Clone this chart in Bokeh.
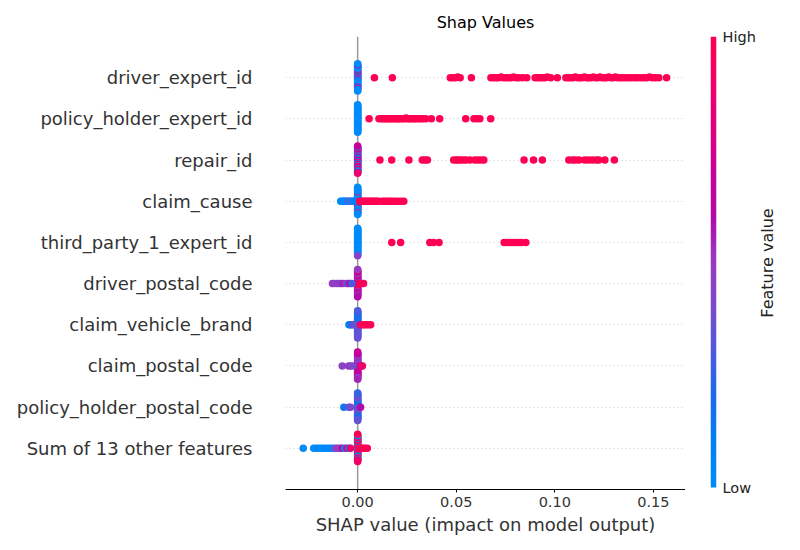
import numpy as np
from bokeh.plotting import figure
from bokeh.layouts import row
from bokeh.models import (ColumnDataSource, LinearColorMapper, FixedTicker, Span, Range1d,
                          Label)
from bokeh.transform import linear_cmap
from bokeh.embed import file_html
from bokeh.resources import INLINE

# ---------------- data ----------------
# feature names, bottom row first
features = ["Sum of 13 other features", "policy_holder_postal_code", "claim_postal_code",
            "claim_vehicle_brand", "driver_postal_code", "third_party_1_expert_id",
            "claim_cause", "repair_id", "policy_holder_expert_id", "driver_expert_id"]

x_ticks = [0.0, 0.05, 0.10, 0.15]
x_tick_labels = ["0.00", "0.05", "0.10", "0.15"]

# driver_expert_id
driver_expert_id_shap = [0.0085, 0.0176, 0.0470, 0.0482, 0.0495, 0.0508, 0.0520, 0.0577,
                         0.0676, 0.0690, 0.0703, 0.0715, 0.0728, 0.0740, 0.0752, 0.0765,
                         0.0778, 0.0790, 0.0803, 0.0816, 0.0836, 0.0858, 0.0900, 0.0912,
                         0.0925, 0.0938, 0.0950, 0.0962, 0.0979, 0.1013, 0.1056, 0.1068,
                         0.1080, 0.1092, 0.1104, 0.1115, 0.1126, 0.1138, 0.1150, 0.1161,
                         0.1172, 0.1184, 0.1195, 0.1206, 0.1218, 0.1229, 0.1240, 0.1252,
                         0.1263, 0.1274, 0.1286, 0.1297, 0.1308, 0.1320, 0.1332, 0.1345,
                         0.1358, 0.1372, 0.1388, 0.1405, 0.1420, 0.1436, 0.1452, 0.1466,
                         0.1480, 0.1495, 0.1510, 0.1528, 0.1567]
driver_expert_id_feat = [1.0, 1.0, 1.0, 1.0, 1.0, 1.0, 1.0, 1.0, 1.0, 1.0, 1.0, 1.0, 1.0,
                         1.0, 1.0, 1.0, 1.0, 1.0, 1.0, 1.0, 1.0, 1.0, 1.0, 1.0, 1.0, 1.0,
                         1.0, 1.0, 1.0, 1.0, 1.0, 1.0, 1.0, 1.0, 1.0, 1.0, 1.0, 1.0, 1.0,
                         1.0, 1.0, 1.0, 1.0, 1.0, 1.0, 1.0, 1.0, 1.0, 1.0, 1.0, 1.0, 1.0,
                         1.0, 1.0, 1.0, 1.0, 1.0, 1.0, 1.0, 1.0, 1.0, 1.0, 1.0, 1.0, 1.0,
                         1.0, 1.0, 1.0, 1.0]
driver_expert_id_zero = [0.0, 0.0, 0.7, 0.0, 0.05, 0.0, 0.9, 0.0, 0.0, 0.6, 0.0, 0.0,
                         0.05, 0.8, 0.0, 0.0, 0.0, 0.7, 0.0, 0.1, 0.0, 0.95, 0.0, 0.0,
                         0.6, 0.0, 0.0, 0.0, 0.75, 0.0, 0.0, 0.05, 0.0, 0.65, 0.0, 0.0]

# policy_holder_expert_id
policy_holder_expert_id_shap = [0.0058, 0.0108, 0.0120, 0.0130, 0.0138, 0.0145, 0.0155,
                                0.0160, 0.0170, 0.0180, 0.0188, 0.0195, 0.0205, 0.0210,
                                0.0220, 0.0230, 0.0240, 0.0245, 0.0255, 0.0260, 0.0270,
                                0.0280, 0.0290, 0.0298, 0.0310, 0.0320, 0.0330, 0.0345,
                                0.0374, 0.0416, 0.0548, 0.0590, 0.0605, 0.0620, 0.0675]
policy_holder_expert_id_feat = [1.0, 1.0, 1.0, 1.0, 1.0, 1.0, 1.0, 1.0, 1.0, 1.0, 1.0, 1.0,
                                1.0, 1.0, 1.0, 1.0, 1.0, 1.0, 1.0, 1.0, 1.0, 1.0, 1.0, 1.0,
                                1.0, 1.0, 1.0, 1.0, 1.0, 1.0, 1.0, 1.0, 1.0, 1.0, 1.0]
policy_holder_expert_id_zero = [0.0, 0.0, 0.02, 0.0, 0.0, 0.0, 0.0, 0.03, 0.0, 0.0, 0.0,
                                0.0, 0.0, 0.02, 0.0, 0.0, 0.0, 0.0, 0.0, 0.0, 0.03, 0.0,
                                0.0, 0.0, 0.0, 0.0, 0.02, 0.0, 0.0, 0.0, 0.0, 0.0, 0.0,
                                0.0, 0.02, 0.0]

# repair_id
repair_id_shap = [0.0113, 0.0173, 0.0260, 0.0328, 0.0340, 0.0354, 0.0487, 0.0500, 0.0510,
                  0.0520, 0.0535, 0.0548, 0.0569, 0.0594, 0.0610, 0.0625, 0.0640, 0.0844,
                  0.0892, 0.0937, 0.1071, 0.1090, 0.1105, 0.1122, 0.1152, 0.1170, 0.1190,
                  0.1210, 0.1223, 0.1254, 0.1302]
repair_id_feat = [1.0, 1.0, 1.0, 1.0, 1.0, 1.0, 1.0, 1.0, 1.0, 1.0, 1.0, 1.0, 1.0, 1.0,
                  1.0, 1.0, 1.0, 1.0, 1.0, 1.0, 1.0, 1.0, 1.0, 1.0, 1.0, 1.0, 1.0, 1.0,
                  1.0, 1.0, 1.0]
repair_id_zero = [0.8, 0.05, 0.7, 0.0, 0.9, 0.6, 0.1, 0.85, 0.0, 0.7, 0.6, 0.05, 0.9, 0.75,
                  0.0, 0.65, 0.8, 0.1, 0.95, 0.0, 0.7, 0.6, 0.05, 0.85, 0.7, 0.0, 0.9, 0.65,
                  0.1, 0.8, 0.0, 0.75, 0.6, 0.05, 0.9, 0.7]

# claim_cause
claim_cause_shap = [-0.0086, -0.0078, -0.0070, -0.0062, -0.0055, -0.0048, -0.0040, -0.0033,
                    -0.0027, -0.0020, -0.0012, 0.0010, 0.0018, 0.0026, 0.0034, 0.0042,
                    0.0050, 0.0058, 0.0066, 0.0074, 0.0082, 0.0090, 0.0098, 0.0106, 0.0125,
                    0.0135, 0.0145, 0.0155, 0.0165, 0.0178, 0.0190, 0.0205, 0.0220, 0.0234]
claim_cause_feat = [0.0, 0.05, 0.0, 0.1, 0.0, 0.3, 0.0, 0.05, 0.4, 0.0, 0.1, 1.0, 1.0, 1.0,
                    0.95, 1.0, 1.0, 1.0, 0.9, 1.0, 1.0, 1.0, 1.0, 1.0, 1.0, 1.0, 1.0, 1.0,
                    1.0, 1.0, 1.0, 1.0, 1.0, 1.0]
claim_cause_zero = [0.0, 0.0, 1.0, 0.0, 0.05, 0.0, 0.0, 1.0, 0.0, 0.0, 0.1, 0.0, 1.0, 0.0,
                    0.0, 0.0, 0.05, 0.0, 0.95, 0.0, 0.0, 0.0, 0.0, 1.0, 0.0, 0.0, 0.05, 0.0,
                    0.0, 0.0, 1.0, 0.0, 0.0, 0.0, 0.0, 0.0]

# third_party_1_expert_id
third_party_1_expert_id_shap = [0.0173, 0.0218, 0.0366, 0.0385, 0.0413, 0.0743, 0.0755,
                                0.0770, 0.0785, 0.0800, 0.0815, 0.0830, 0.0853]
third_party_1_expert_id_feat = [1.0, 1.0, 1.0, 1.0, 1.0, 1.0, 1.0, 1.0, 1.0, 1.0, 1.0, 1.0,
                                1.0]
third_party_1_expert_id_zero = [0.0, 0.0, 0.0, 0.02, 0.0, 0.0, 0.0, 0.0, 0.0, 0.0, 0.02,
                                0.0, 0.0, 0.0, 0.0, 0.0, 0.0, 0.0, 0.0, 0.0, 0.0, 0.0,
                                0.02, 0.0, 0.0, 0.0, 0.0, 0.0, 0.0, 0.0, 0.0, 0.0, 0.0,
                                0.0, 0.45, 0.0]

# driver_postal_code
driver_postal_code_shap = [-0.0128, -0.0118, -0.0105, -0.0095, -0.0085, -0.0075, -0.0060,
                           -0.0050, -0.0040, -0.0030, 0.0010, 0.0020, 0.0030]
driver_postal_code_feat = [0.45, 0.5, 0.45, 0.5, 0.4, 0.55, 0.5, 0.35, 0.6, 0.3, 1.0, 1.0,
                           0.95]
driver_postal_code_zero = [0.6, 0.5, 0.9, 0.65, 0.45, 1.0, 0.6, 0.55, 0.7, 0.4, 0.95, 0.6,
                           0.5, 0.65, 0.85, 0.55, 0.6, 0.45, 1.0, 0.6, 0.5, 0.7, 0.55, 0.9,
                           0.6, 0.45, 0.65, 0.5, 0.8, 0.6, 0.55, 0.6, 0.4, 0.95, 0.6, 0.5]

# claim_vehicle_brand
claim_vehicle_brand_shap = [-0.0044, -0.0038, -0.0030, -0.0022, -0.0015, 0.0015, 0.0025,
                            0.0035, 0.0045, 0.0056, 0.0066]
claim_vehicle_brand_feat = [0.05, 0.1, 0.25, 0.3, 0.35, 0.9, 1.0, 0.95, 1.0, 1.0, 1.0]
claim_vehicle_brand_zero = [0.2, 0.3, 0.1, 0.4, 0.25, 0.35, 0.15, 0.3, 0.45, 0.2, 0.3, 0.1,
                            0.35, 0.25, 0.4, 0.2, 0.3, 0.15, 0.35, 0.25, 0.3, 0.2, 0.4, 0.1,
                            0.3, 0.25, 0.35, 0.2, 0.3, 0.15, 0.4, 0.25, 0.3, 0.2, 0.35, 0.3]

# claim_postal_code
claim_postal_code_shap = [-0.0078, -0.0046, -0.0038, -0.0025, 0.0018, 0.0024]
claim_postal_code_feat = [0.45, 0.45, 0.5, 0.4, 0.75, 0.9]
claim_postal_code_zero = [0.55, 0.6, 0.4, 0.7, 0.5, 0.3, 0.65, 0.55, 0.8, 0.45, 0.6, 0.5,
                          0.35, 0.7, 0.6, 0.55, 0.9, 0.45, 0.6, 0.5, 0.65, 0.4, 0.7, 0.55,
                          0.6, 0.45, 0.75, 0.5, 0.6, 0.55, 0.4, 0.65, 0.5, 0.6, 0.55, 0.7]

# policy_holder_postal_code
policy_holder_postal_code_shap = [-0.0070, -0.0045, -0.0036, 0.0015]
policy_holder_postal_code_feat = [0.15, 0.3, 0.4, 0.6]
policy_holder_postal_code_zero = [0.2, 0.35, 0.1, 0.45, 0.25, 0.3, 0.15, 0.4, 0.2, 0.5, 0.3,
                                  0.1, 0.35, 0.25, 0.45, 0.2, 0.3, 0.15, 0.4, 0.25, 0.35,
                                  0.1, 0.3, 0.45, 0.2, 0.3, 0.15, 0.4, 0.25, 0.35, 0.2, 0.5,
                                  0.3, 0.1, 0.35, 0.25]

# Sum of 13 other features
sum_other_shap = [-0.0276, -0.0223, -0.0210, -0.0198, -0.0186, -0.0174, -0.0162, -0.0150,
                  -0.0138, -0.0126, -0.0114, -0.0102, -0.0090, -0.0078, -0.0066, -0.0055,
                  -0.0044, -0.0036, 0.0008, 0.0018, 0.0028, 0.0038, 0.0049]
sum_other_feat = [0.0, 0.0, 0.0, 0.05, 0.0, 0.0, 0.05, 0.0, 0.1, 0.0, 0.4, 0.5, 0.45, 0.7,
                  0.0, 0.8, 0.05, 0.9, 1.0, 1.0, 0.95, 1.0, 1.0]
sum_other_zero = [1.0, 0.0, 0.95, 0.05, 1.0, 0.9, 0.0, 1.0, 0.1, 0.95, 1.0, 0.0, 0.9, 1.0,
                  0.05, 1.0, 0.95, 0.0, 1.0, 0.9, 0.1, 1.0, 0.0, 0.95, 1.0, 0.05, 0.9, 1.0,
                  0.0, 1.0, 0.95, 0.1, 1.0, 0.0, 0.9, 1.0]

rows_data = [
    (sum_other_shap, sum_other_feat, sum_other_zero),
    (policy_holder_postal_code_shap, policy_holder_postal_code_feat, policy_holder_postal_code_zero),
    (claim_postal_code_shap, claim_postal_code_feat, claim_postal_code_zero),
    (claim_vehicle_brand_shap, claim_vehicle_brand_feat, claim_vehicle_brand_zero),
    (driver_postal_code_shap, driver_postal_code_feat, driver_postal_code_zero),
    (third_party_1_expert_id_shap, third_party_1_expert_id_feat, third_party_1_expert_id_zero),
    (claim_cause_shap, claim_cause_feat, claim_cause_zero),
    (repair_id_shap, repair_id_feat, repair_id_zero),
    (policy_holder_expert_id_shap, policy_holder_expert_id_feat, policy_holder_expert_id_zero),
    (driver_expert_id_shap, driver_expert_id_feat, driver_expert_id_zero),
]

# ---------------- colour map (shap red_blue) ----------------
anchor_pos = [0.0, 0.1, 0.2, 0.3, 0.4, 0.5, 0.6, 0.7, 0.8, 0.9, 1.0]
anchor_hex = ["#008bfb", "#0080f6", "#1a6ae8", "#4d5ade", "#7a4ace", "#993bc0",
              "#b10aa8", "#c8009a", "#e0007f", "#f20068", "#ff0052"]
anchor_rgb = np.array([[int(h[i:i + 2], 16) for i in (1, 3, 5)] for h in anchor_hex], float)
tt = np.linspace(0, 1, 256)
palette = ["#%02x%02x%02x" % tuple(int(round(np.interp(t, anchor_pos, anchor_rgb[:, c])))
                                    for c in range(3)) for t in tt]
mapper = LinearColorMapper(palette=palette, low=0, high=1)


# ---------------- beeswarm layout (shap's algorithm) ----------------
def swarm(shaps, row_height=0.4, nbins=100):
    shaps = np.asarray(shaps, float)
    n = len(shaps)
    quant = np.round(nbins * (shaps - shaps.min()) / (shaps.max() - shaps.min() + 1e-8))
    inds = np.argsort(quant, kind="stable")
    layer, last = 0, -1
    ys = np.zeros(n)
    for ind in inds:
        if quant[ind] != last:
            layer = 0
        ys[ind] = np.ceil(layer / 2) * ((layer % 2) * 2 - 1)
        layer += 1
        last = quant[ind]
    ys *= 0.9 * (row_height / np.max(ys + 1))
    return ys


xs, ys, fs = [], [], []
for pos, (sh, ft, zc) in enumerate(rows_data):
    s_all = list(np.zeros(len(zc))) + list(sh)
    f_all = list(zc) + list(ft)
    off = swarm(s_all)
    xs += s_all
    ys += list(pos + off)
    fs += f_all

src = ColumnDataSource(dict(x=xs, y=ys, feat=fs))

FONT = "DejaVu Sans"

# ---------------- main figure ----------------
p = figure(width=685, height=550, x_range=Range1d(-0.0366, 0.1663), y_range=Range1d(-1, 10),
           output_backend="svg", toolbar_location=None,
           min_border_left=285, min_border_right=0, min_border_top=36, min_border_bottom=61)
p.outline_line_color = None
p.background_fill_color = "white"
p.border_fill_color = "white"

p.title.text = "Shap Values"
p.title.align = "center"
p.title.text_font = FONT
p.title.text_font_size = "16px"
p.title.text_font_style = "normal"
p.title.text_color = "#000000"
p.title.standoff = 9

p.xgrid.visible = False
p.ygrid.ticker = FixedTicker(ticks=list(range(len(features))))
p.ygrid.grid_line_color = "#cccccc"
p.ygrid.grid_line_dash = "1 3"
p.ygrid.grid_line_width = 1

zero_line = Span(location=0, dimension="height", line_color="#999999", line_width=1.5,
                 level="underlay")
p.add_layout(zero_line)

p.scatter("x", "y", source=src, size=7.5, line_color=None,
          fill_color=linear_cmap("feat", palette, 0, 1))

p.yaxis.ticker = FixedTicker(ticks=list(range(len(features))))
p.yaxis.major_label_overrides = {i: f for i, f in enumerate(features)}
p.yaxis.axis_line_color = None
p.yaxis.major_tick_line_color = None
p.yaxis.minor_tick_line_color = None
p.yaxis.major_label_standoff = 27
p.yaxis.major_label_text_font = FONT
p.yaxis.major_label_text_font_size = "18px"
p.yaxis.major_label_text_color = "#333333"

p.xaxis.ticker = FixedTicker(ticks=x_ticks)
p.xaxis.major_label_overrides = {t: l for t, l in zip(x_ticks, x_tick_labels)}
p.xaxis.axis_line_color = "#000000"
p.xaxis.axis_line_width = 1
p.xaxis.major_tick_out = 3
p.xaxis.major_tick_in = 0
p.xaxis.minor_tick_line_color = None
p.xaxis.major_label_standoff = 4
p.xaxis.major_label_text_font = FONT
p.xaxis.major_label_text_font_size = "14.5px"
p.xaxis.major_label_text_color = "#333333"
p.xaxis.axis_label = "SHAP value (impact on model output)"
p.xaxis.axis_label_text_font = FONT
p.xaxis.axis_label_text_font_size = "18px"
p.xaxis.axis_label_text_font_style = "normal"
p.xaxis.axis_label_text_color = "#333333"
p.xaxis.axis_label_standoff = 4

# ---------------- colour bar (bar + Low/High) ----------------
cb = figure(frame_width=6, frame_height=453, x_range=Range1d(0, 1),
            y_range=Range1d(-2 / 451, 1), y_axis_location="right",
            output_backend="svg", toolbar_location=None,
            min_border_left=25, min_border_right=10, min_border_top=36, min_border_bottom=61)
cb.outline_line_color = None
cb.grid.visible = False
cb.xaxis.visible = False
grad = np.linspace(0, 1, 256).reshape(256, 1)
cb.image(image=[grad], x=0, y=0, dw=1, dh=1, color_mapper=mapper)
cb.yaxis.ticker = FixedTicker(ticks=[0, 1])
cb.yaxis.major_label_overrides = {0: "Low", 1: "High"}
cb.yaxis.axis_line_color = None
cb.yaxis.major_tick_line_color = None
cb.yaxis.minor_tick_line_color = None
cb.yaxis.major_tick_out = 0
cb.yaxis.major_tick_in = 0
cb.yaxis.major_label_standoff = 6
cb.yaxis.major_label_text_font = FONT
cb.yaxis.major_label_text_font_size = "14.5px"
cb.yaxis.major_label_text_color = "#222222"

# ---------------- colour bar title (x in px from this panel's left edge) ----------------
fl = figure(width=50, height=550, x_range=Range1d(0, 50), y_range=Range1d(0, 1),
            output_backend="svg", toolbar_location=None,
            min_border_left=0, min_border_right=0, min_border_top=36, min_border_bottom=61)
fl.outline_line_color = None
fl.grid.visible = False
fl.axis.visible = False
fl.add_layout(Label(x=9, y=0.5, text="Feature value", angle=90, angle_units="deg",
                    text_align="center", text_baseline="middle", text_font=FONT,
                    text_font_size="16px", text_color="#222222"))

layout = row(p, cb, fl)
open("out.html", "w").write(file_html(layout, INLINE))
